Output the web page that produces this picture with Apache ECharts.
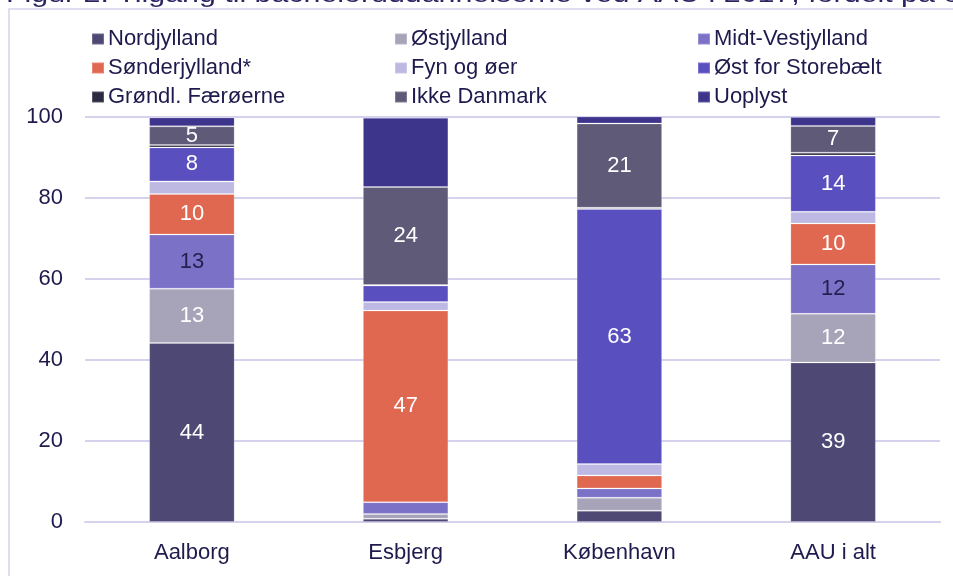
<!DOCTYPE html>
<html>
<head>
<meta charset="utf-8">
<script src="https://cdn.jsdelivr.net/npm/echarts@6/dist/echarts.min.js"></script>
<style>html,body{margin:0;padding:0;background:#fff}#c{width:953px;height:576px}</style>
</head>
<body>
<div id="c"></div>
<script>
const categories = ['Aalborg', 'Esbjerg', 'København', 'AAU i alt'];
const seriesNames = ['Nordjylland', 'Østjylland', 'Midt-Vestjylland', 'Sønderjylland*', 'Fyn og øer', 'Øst for Storebælt', 'Grøndl. Færøerne', 'Ikke Danmark', 'Uoplyst'];
const nordjylland = [44.2, 0.8, 2.8, 39.4];
const ostjylland = [13.4, 1.2, 3.2, 12.0];
const midtVestjylland = [13.4, 2.9, 2.3, 12.2];
const sonderjylland = [10.0, 47.3, 3.2, 10.1];
const fynOgOer = [3.1, 2.1, 2.8, 2.9];
const ostForStorebaelt = [8.4, 4.1, 63.0, 13.9];
const grondlFaeroerne = [0.6, 0.1, 0.3, 0.7];
const ikkeDanmark = [4.6, 24.2, 20.8, 6.6];
const uoplyst = [2.2, 17.1, 1.8, 2.2];
const yTicks = [0, 20, 40, 60, 80, 100];
const titleText = 'Figur 2: Tilgang til bacheloruddannelserne ved AAU i 2017, fordelt på oprindelse';

const seriesValues = [nordjylland, ostjylland, midtVestjylland, sonderjylland, fynOgOer, ostForStorebaelt, grondlFaeroerne, ikkeDanmark, uoplyst];
const colors = ['#4e4874', '#a7a3b8', '#7b72c8', '#e06750', '#bdb9e3', '#5a4fbf', '#2c2a40', '#5f5a77', '#3d348b'];
const labelColors = ['#fff', '#fff', '#231f4f', '#fff', '#fff', '#fff', '#fff', '#fff', '#fff'];
const showLabels = [true, true, true, true, true, true, false, true, false];
const textColor = '#1e1a4d';
const font = 'Liberation Sans, Arial, sans-serif';

const chart = echarts.init(document.getElementById('c'), null, {renderer: 'canvas'});

const series = seriesNames.map((name, i) => ({
  name: name,
  type: 'bar',
  stack: 'total',
  barWidth: '40%',
  data: seriesValues[i],
  itemStyle: {color: colors[i], borderColor: 'rgba(255,255,255,0.2)', borderWidth: 1},
  label: {
    show: showLabels[i],
    position: 'inside',
    color: labelColors[i],
    fontSize: 22,
    fontFamily: font,
    formatter: p => (p.value >= 4.5 ? String(Math.round(p.value)) : '')
  },
  emphasis: {disabled: true}
}));

const legendCols = [
  [seriesNames[0], seriesNames[3], seriesNames[6]],
  [seriesNames[1], seriesNames[4], seriesNames[7]],
  [seriesNames[2], seriesNames[5], seriesNames[8]]
];
const legendLefts = [86, 389, 692];
const legends = legendCols.map((d, i) => ({
  data: d,
  orient: 'vertical',
  left: legendLefts[i],
  top: 23,
  itemWidth: 12,
  itemHeight: 11,
  itemGap: 7,
  icon: 'rect',
  selectedMode: false,
  textStyle: {color: textColor, fontSize: 22, fontFamily: font, lineHeight: 22, padding: [0, 0, 0, -1]}
}));

chart.setOption({
  animation: false,
  color: colors,
  graphic: [
    {type: 'rect', shape: {x: 9, y: 9, width: 1000, height: 600}, style: {fill: 'none', stroke: '#d6d2ee', lineWidth: 1.5}, silent: true},
    {type: 'text', x: 6, y: -16, scaleX: 1.32, style: {text: titleText, fill: '#2a2560', fontSize: 23, fontFamily: font}, silent: true}
  ],
  legend: legends,
  grid: {left: 85, right: 13, top: 117, bottom: 54, containLabel: false},
  xAxis: {
    type: 'category',
    data: categories,
    axisLine: {lineStyle: {color: '#d6d2ee', width: 2}},
    axisTick: {show: false},
    axisLabel: {color: textColor, fontSize: 22, fontFamily: font, margin: 20}
  },
  yAxis: {
    type: 'value',
    min: yTicks[0],
    max: yTicks[yTicks.length - 1],
    interval: yTicks[1] - yTicks[0],
    axisLine: {show: false},
    axisTick: {show: false},
    splitLine: {lineStyle: {color: '#d6d2ee', width: 2}},
    axisLabel: {color: textColor, fontSize: 22, fontFamily: font, margin: 22}
  },
  series: series
});
</script>
</body>
</html>
